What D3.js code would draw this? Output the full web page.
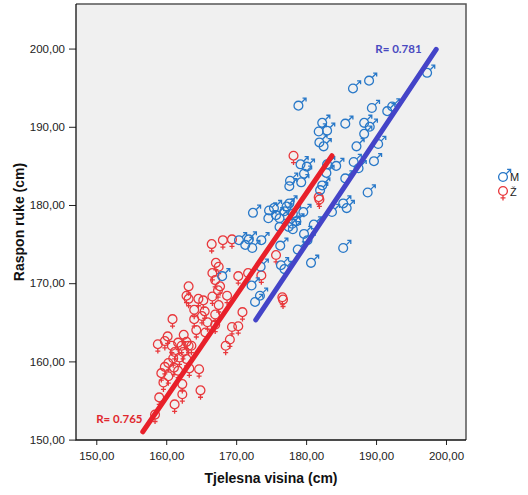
<!DOCTYPE html>
<html><head><meta charset="utf-8">
<script src="https://cdn.jsdelivr.net/npm/d3@7"></script>
<style>body{margin:0;background:#fff;}svg{display:block;}</style>
</head><body>
<script>
// Male (M) points: height, arm span
const maleX = [178.9,186.7,189.0,197.3,182.3,183.0,181.8,185.6,189.4,191.6,192.3,188.3,189.1,188.3,187.2,190.3,181.9,182.5,186.8,189.7,184.3,187.5,179.2,180.1,183.0,185.6,177.7,179.7,182.9,182.3,182.0,179.3,177.6,188.8,185.3,185.8,183.7,179.6,172.4,174.7,174.6,175.4,176.2,177.2,177.6,176.9,178.1,176.2,178.0,178.1,181.1,179.7,180.2,170.4,171.8,172.3,173.6,171.3,178.8,176.3,185.3,176.4,176.9,180.7,173.5,168.0,172.2,173.4,172.7,175.7,177.5,178.6];
const maleY = [192.7,194.9,195.9,196.9,190.5,189.5,189.4,190.4,192.4,192.0,192.6,190.5,190.0,189.1,187.5,187.8,188.0,187.5,185.5,185.6,185.0,184.7,185.2,184.9,185.2,183.4,183.1,184.0,184.1,182.5,181.9,182.9,182.4,181.6,180.2,179.6,179.1,179.1,179.0,179.3,178.3,179.6,178.3,179.8,180.2,179.2,178.9,177.2,177.6,176.9,177.5,176.3,175.5,175.5,175.6,174.5,175.5,174.9,174.3,174.8,174.5,172.3,171.8,172.6,172.1,170.9,169.7,168.4,167.6,178.7,177.2,177.9];
// Female (Ž) points
const femaleX = [178.2,181.8,181.9,166.5,168.1,169.4,175.7,176.6,176.7,167.1,167.5,166.6,167.0,167.7,167.4,170.3,171.7,173.6,163.2,162.9,163.2,164.6,165.3,166.6,168.7,167.5,164.0,165.5,167.0,170.9,160.9,164.0,165.1,164.3,165.9,169.4,170.3,160.2,162.5,169.1,158.8,159.8,160.8,161.7,162.2,163.2,163.6,168.5,161.2,162.4,161.0,161.9,162.9,159.8,159.3,160.3,161.7,163.3,164.7,159.6,162.3,164.9,159.0,162.3,161.2,158.4,161.1,160.3,162.9,165.6,167.0];
const femaleY = [186.3,181.0,180.7,175.0,175.5,175.6,173.6,168.2,167.9,172.6,172.1,171.3,170.4,169.6,169.1,170.9,171.3,171.0,169.6,168.4,168.0,168.0,167.8,168.3,168.4,167.2,166.6,166.4,166.0,166.3,165.4,165.4,165.8,164.0,165.0,164.4,164.5,163.2,163.4,162.8,162.2,162.6,162.0,162.4,162.0,162.0,162.0,162.0,161.2,161.2,160.4,160.5,160.3,159.3,158.5,158.1,158.8,159.1,159.0,157.3,157.1,156.3,155.4,155.8,154.5,153.2,159.2,159.8,162.5,163.7,164.7];
// Fit lines (start/end) and R labels
const maleFit = [[172.8,165.3],[198.6,199.9]];
const femaleFit = [[156.65,151.0],[183.7,186.3]];
const xTicks = [150,160,170,180,190,200];
const yTicks = [150,160,170,180,190,200];
const legendLabels = ["M","Ž"];

const W=528,H=495;
const svg=d3.select("body").append("svg").attr("width",W).attr("height",H);
const L=76,R=466,T=4,B=440;
const x=d3.scaleLinear().domain([147.1,202.86]).range([L,R]);
const y=d3.scaleLinear().domain([149.95,205.7]).range([B,T]);

svg.append("rect").attr("x",L).attr("y",T).attr("width",R-L).attr("height",B-T).attr("fill","#f0f0f0");

const fmt=d=>d.toFixed(2).replace(".",",");
const font="Arial, 'Liberation Sans', sans-serif";
const xa=svg.append("g").attr("transform",`translate(0,${B})`).call(d3.axisBottom(x).tickValues(xTicks).tickFormat(fmt).tickSize(5).tickSizeOuter(0));
const ya=svg.append("g").attr("transform",`translate(${L},0)`).call(d3.axisLeft(y).tickValues(yTicks).tickFormat(fmt).tickSize(7).tickSizeOuter(0));
[xa,ya].forEach(a=>{a.select(".domain").remove();a.selectAll("line").attr("stroke","#222");a.selectAll("text").attr("font-family",font).attr("font-size","11.5px").attr("fill","#222");});
xa.selectAll("text").attr("dy","1.05em");
ya.selectAll("text").attr("dx","-1px");

// frame
svg.append("path").attr("d",`M${L},${T}H${R}V${B}`).attr("fill","none").attr("stroke","#555").attr("stroke-width",1.5);
svg.append("path").attr("d",`M${L},${T}V${B}H${R}`).attr("fill","none").attr("stroke","#111").attr("stroke-width",1.3);

const maleC="#2878c8", femC="#e8383c";
const r=4.4;
function maleSym(g,col){
  g.append("circle").attr("r",r).attr("fill","none").attr("stroke",col).attr("stroke-width",1.3);
  const a=r*0.7071;
  g.append("path").attr("d",`M${a},${-a}L${a+4.5},${-a-4.5}M${a+1},${-a-4.5}H${a+4.5}V${-a-1}`).attr("fill","none").attr("stroke",col).attr("stroke-width",1.3);
}
function femSym(g,col){
  g.append("circle").attr("r",r).attr("fill","none").attr("stroke",col).attr("stroke-width",1.3);
  g.append("path").attr("d",`M0,${r}V${r+5}M-2.5,${r+2.5}H2.5`).attr("fill","none").attr("stroke",col).attr("stroke-width",1.3);
}
const plot=svg.append("g");
const fd=femaleX.map((v,i)=>({x:v,y:femaleY[i]}));
const md=maleX.map((v,i)=>({x:v,y:maleY[i]}));
plot.selectAll("g.f").data(fd).join("g").attr("class","f").attr("transform",d=>`translate(${x(d.x)},${y(d.y)})`).each(function(){femSym(d3.select(this),femC);});
plot.selectAll("g.m").data(md).join("g").attr("class","m").attr("transform",d=>`translate(${x(d.x)},${y(d.y)})`).each(function(){maleSym(d3.select(this),maleC);});

const line=d3.line().x(d=>x(d[0])).y(d=>y(d[1]));
svg.append("path").attr("d",line(femaleFit)).attr("stroke","#e8202a").attr("stroke-width",5).attr("stroke-linecap","round").attr("fill","none");
svg.append("path").attr("d",line(maleFit)).attr("stroke","#4444c8").attr("stroke-width",5).attr("stroke-linecap","round").attr("fill","none");

const rf="Lato, 'Open Sans', sans-serif";
svg.append("text").attr("x",x(193.2)).attr("y",y(199.9)).attr("dy","0.35em").attr("text-anchor","middle").attr("font-family",rf).attr("font-weight","bold").attr("font-size","11.5px").attr("fill","#4a4ac0").text("R= 0.781");
svg.append("text").attr("x",x(153.3)).attr("y",y(152.6)).attr("dy","0.35em").attr("text-anchor","middle").attr("font-family",rf).attr("font-weight","bold").attr("font-size","11.5px").attr("fill","#e0282e").text("R= 0.765");

svg.append("text").attr("x",271).attr("y",483).attr("text-anchor","middle").attr("font-family",font).attr("font-weight","bold").attr("font-size","14px").attr("fill","#111").text("Tjelesna visina (cm)");
svg.append("text").attr("transform","translate(24,222) rotate(-90)").attr("text-anchor","middle").attr("font-family",font).attr("font-weight","bold").attr("font-size","14px").attr("fill","#111").text("Raspon ruke (cm)");

// legend
const lg=svg.append("g");
const l1=lg.append("g").attr("transform","translate(503,177)"); maleSym(l1,maleC);
const l2=lg.append("g").attr("transform","translate(503,191)"); femSym(l2,femC);
lg.append("text").attr("x",510).attr("y",181).attr("font-family",font).attr("font-size","11px").attr("fill","#222").text(legendLabels[0]);
lg.append("text").attr("x",510).attr("y",196).attr("font-family",font).attr("font-size","11px").attr("fill","#222").text(legendLabels[1]);
</script>
</body></html>
